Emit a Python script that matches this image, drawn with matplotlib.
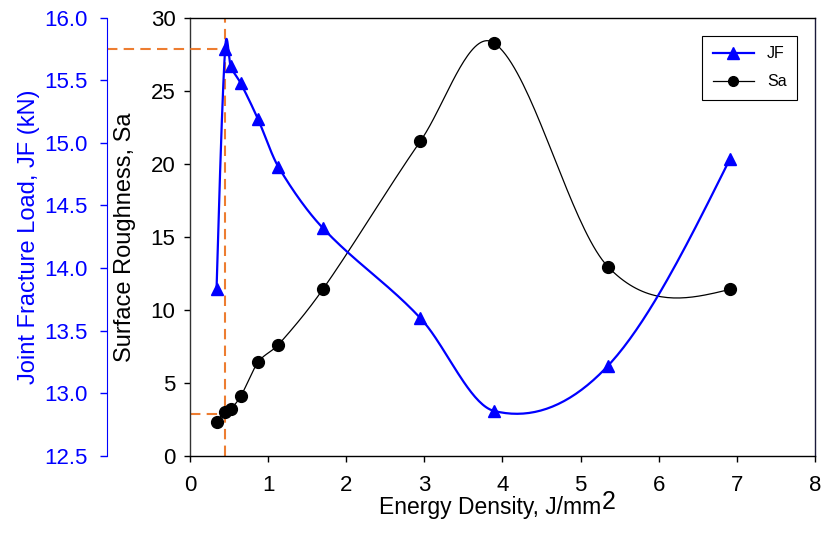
import numpy as np
import matplotlib.pyplot as plt
import matplotlib as mpl

# energy density (J/mm^2), joint fracture load (kN) and surface roughness
energy = [0.34, 0.45, 0.52, 0.65, 0.87, 1.13, 1.70, 2.95, 3.89, 5.35, 6.91]
jf = [13.83, 15.75, 15.61, 15.475, 15.19, 14.81, 14.32, 13.60, 12.86, 13.22, 14.87]
sa = [2.35, 3.03, 3.21, 4.10, 6.40, 7.60, 11.40, 21.55, 28.27, 12.95, 11.40]

# optimum marked with the dashed guides
e_opt = 0.45
jf_opt = 15.75
sa_opt = 2.87


def smooth(x, y, n=40):
    # cardinal (catmull-rom) hermite curve through the points, natural ends
    x, y = np.asarray(x, float), np.asarray(y, float)
    m = np.zeros(len(x))
    m[1:-1] = (y[2:] - y[:-2]) / (x[2:] - x[:-2])
    d0 = (y[1] - y[0]) / (x[1] - x[0])
    d1 = (y[-1] - y[-2]) / (x[-1] - x[-2])
    m[0] = (3 * d0 - m[1]) / 2
    m[-1] = (3 * d1 - m[-2]) / 2
    xs, ys = [], []
    for i in range(len(x) - 1):
        h = x[i + 1] - x[i]
        s = np.linspace(0, 1, n)
        h00 = 2 * s**3 - 3 * s**2 + 1
        h10 = s**3 - 2 * s**2 + s
        h01 = -2 * s**3 + 3 * s**2
        h11 = s**3 - s**2
        xs.append(x[i] + s * h)
        ys.append(h00 * y[i] + h10 * h * m[i] + h01 * y[i + 1] + h11 * h * m[i + 1])
    return np.concatenate(xs), np.concatenate(ys)


plt.rcParams['font.family'] = ['Liberation Sans', 'DejaVu Sans']

fig = plt.figure(figsize=(8.26, 5.33), dpi=100)
ax = fig.add_axes([0.230, 0.1445, 0.7567, 0.8225])

ax.set_xlim(0, 8)
ax.set_ylim(0, 30)
ax.set_xticks(range(9))
ax.set_yticks(range(0, 31, 5))
ax.tick_params(direction='out', length=4.5, width=1, labelsize=16)
ax.tick_params(axis='y', pad=6)
ax.tick_params(axis='x', pad=9)
for s in ax.spines.values():
    s.set_linewidth(1)
ax.spines['left'].set_color('#333333')
ax.spines['right'].set_color('#1a1a3a')

ax.set_ylabel('Surface Roughness, Sa', fontsize=17)
ax.yaxis.set_label_coords(-0.087, 0.5)
ax.set_xlabel('Energy Density, J/mm', fontsize=16.5, labelpad=0)
ax.xaxis.label.set_x(0.48)

# second axis for the fracture load, spine moved to the far left
ax2 = ax.twinx()
ax2.set_ylim(12.5, 16.0)
ax2.set_yticks(np.arange(12.5, 16.01, 0.5))
ax2.yaxis.set_major_formatter(mpl.ticker.FormatStrFormatter('%.1f'))
spine_pos = -0.133
ax2.spines['left'].set_position(('axes', spine_pos))
ax2.spines['left'].set_visible(True)
ax2.spines['left'].set_color('blue')
for k in ['right', 'top', 'bottom']:
    ax2.spines[k].set_visible(False)
ax2.yaxis.set_ticks_position('left')
ax2.yaxis.set_label_position('left')
ax2.tick_params(axis='y', colors='blue', direction='out', length=5, width=1, labelsize=16, pad=8.5)
ax2.set_ylabel('Joint Fracture Load, JF (kN)', fontsize=17, color='blue')
ax2.yaxis.set_label_coords(-0.24, 0.5)

# data
xs, ys = smooth(energy, sa)
ax.plot(xs, ys, c='black', lw=0.9, zorder=3)
ax.plot(energy, sa, 'o', c='black', ms=8.5, zorder=4)

xs, ys = smooth(energy, jf)
ax2.plot(xs, ys, c='blue', lw=1.6, zorder=3)
ax2.plot(energy, jf, '^', c='blue', ms=9, zorder=4)

# dashed guides
orange = '#ED7D31'
ax.axvline(e_opt, c=orange, lw=1.5, ls=(0, (5, 3)), zorder=2)
ax.plot([0, e_opt], [sa_opt, sa_opt], c=orange, lw=1.5, ls=(0, (5, 3)), zorder=2)
ax2.plot([spine_pos * 8, e_opt], [jf_opt, jf_opt], c=orange, lw=1.5, ls=(0, (5, 3)),
         clip_on=False, zorder=2)

# legend
h1 = mpl.lines.Line2D([], [], c='blue', lw=1.6, marker='^', ms=8)
h2 = mpl.lines.Line2D([], [], c='black', lw=0.9, marker='o', ms=7)
leg = ax2.legend([h1, h2], ['JF', 'Sa'], loc='upper right', bbox_to_anchor=(0.971, 0.958),
                 borderaxespad=0, fontsize=11.5, frameon=True, fancybox=False, framealpha=1,
                 edgecolor='black', handlelength=2.6, borderpad=0.65, labelspacing=0.8)
leg.get_frame().set_linewidth(0.8)

# superscript 2 at full size after the x label
fig.canvas.draw()
bb = ax.xaxis.label.get_window_extent()
fig.text((bb.x1 + 1) / fig.dpi / 8.26, (bb.y0 + 9.5) / fig.dpi / 5.33, '2', fontsize=18)

fig.savefig('out.png', dpi=100)
